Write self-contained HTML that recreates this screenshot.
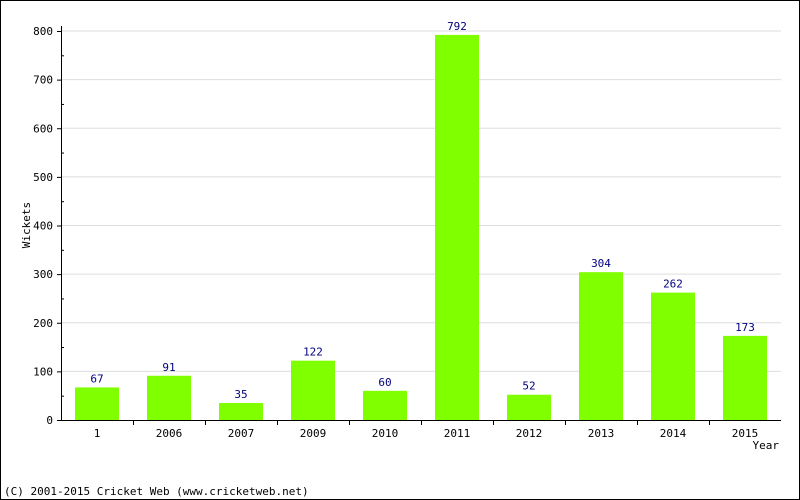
<!DOCTYPE html>
<html><head><style>
body{margin:0;background:#fff}
svg{display:block;font-family:"DejaVu Sans Mono","Liberation Mono",monospace;font-size:11px}
</style></head><body>
<svg id="c" width="800" height="500">
<rect x="0.5" y="0.5" width="799" height="499" fill="#fff" stroke="#000"/>
<g id="grid"></g><g id="bars"></g><g id="axes"></g>
<text x="30" y="225" transform="rotate(-90 30 225)" text-anchor="middle">Wickets</text>
<text x="779" y="449" text-anchor="end">Year</text>
<text x="4" y="495">(C) 2001-2015 Cricket Web (www.cricketweb.net)</text>
</svg>
<script>
const categories=["1","2006","2007","2009","2010","2011","2012","2013","2014","2015"];
const values=[67,91,35,122,60,792,52,304,262,173];
const yTicks=[0,100,200,300,400,500,600,700,800];
const NS="http://www.w3.org/2000/svg";
const x0=61,x1=781,yb=420,yt=31,ymax=800;
const step=(x1-x0)/categories.length;
const y=v=>yb-(yb-yt)*v/ymax;
const xc=i=>x0+step*(i+0.5);
function mk(p,tag,a,t){const e=document.createElementNS(NS,tag);for(const k in a)e.setAttribute(k,a[k]);if(t!=null)e.textContent=t;document.getElementById(p).appendChild(e);return e;}
yTicks.forEach(v=>{
 if(v>0){const g=mk('grid','line',{x1:x0,x2:x1,y1:y(v),y2:y(v),stroke:'#ddd'});
 
 }
 const t=mk('axes','line',{x1:x0-4,x2:x0,y1:y(v)+.5,y2:y(v)+.5,stroke:'#000'});
 
 
 const l=mk('axes','text',{x:x0-8,y:y(v)+4,'text-anchor':'end'},v);
 
 
 if(v<ymax){const m=mk('axes','line',{x1:x0,x2:x0+3,y1:y(v+50)+.5,y2:y(v+50)+.5,stroke:'#000'});
 
 }
});
categories.forEach((c,i)=>{
 const bw=44,v=values[i];
 const b=mk('bars','rect',{x:xc(i)-bw/2,y:y(v),width:bw,height:yb-y(v),fill:'#80ff00'});
 
 
 const vl=mk('bars','text',{x:xc(i),y:y(v)-5,'text-anchor':'middle',fill:'#000080'},v);
 
 
 const xl=mk('axes','text',{x:xc(i),y:yb+17,'text-anchor':'middle'},c);
 
 
 if(i>0){const t=mk('axes','line',{x1:x0+step*i+.5,x2:x0+step*i+.5,y1:yb,y2:yb+5,stroke:'#000'});
 
 }
});
const ax=mk('axes','path',{d:`M${x0+.5} ${yt-5}V${yb+.5}H${x1}`,fill:'none',stroke:'#000'});


</script>
</body></html>
